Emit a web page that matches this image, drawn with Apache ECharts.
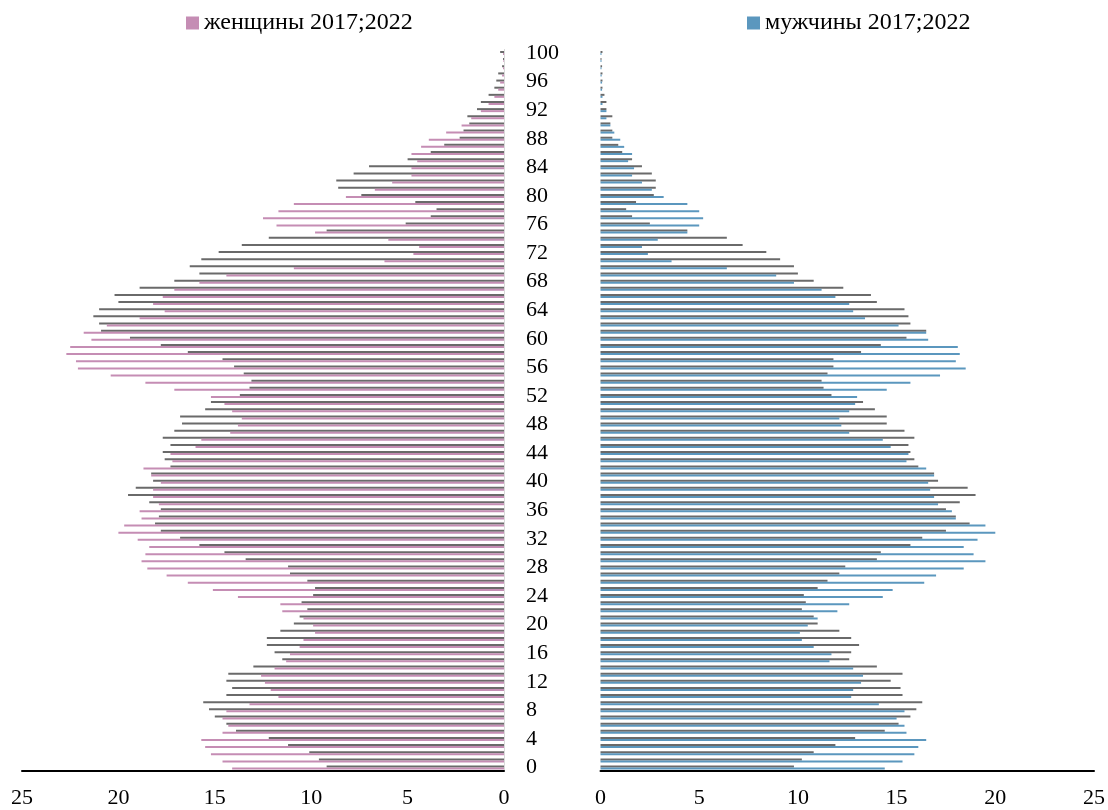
<!DOCTYPE html>
<html>
<head>
<meta charset="utf-8">
<script src="https://cdn.jsdelivr.net/npm/echarts@6/dist/echarts.min.js"></script>
<style>
html,body{margin:0;padding:0;background:#fff;}
#chart{width:1108px;height:810px;}
</style>
</head>
<body>
<div id="chart"></div>
<script>
// Ages 0..100 (category labels)
const ages = [];
for (let a = 0; a <= 100; a++) ages.push(String(a));

const xTicks = [0, 5, 10, 15, 20, 25];

// Women, 2017 (pink) — ages 0..100
const women2017 = [
  14.1, 14.6, 15.2, 15.5, 15.7, 14.6, 14.3, 14.6, 14.4, 13.2, 11.7, 12.1, 12.4, 12.6, 11.9, 11.3, 11.1, 10.6, 10.4, 9.8, 9.9, 10.4, 11.5, 11.6, 13.8, 15.1,
  16.4, 17.5, 18.5, 18.8, 18.6, 18.4, 19.0, 20.0, 19.7, 18.8, 18.9, 17.9, 18.2, 18.2, 17.8, 18.3, 18.7, 17.2, 17.3, 16.0, 15.7, 14.2, 13.8, 13.6, 14.1, 14.5,
  15.2, 17.1, 18.6, 20.4, 22.1, 22.2, 22.7, 22.5, 21.4, 21.8, 20.6, 18.9, 17.6, 18.2, 17.7, 17.1, 15.8, 14.4, 10.9, 6.2, 4.7, 4.4, 6.0, 9.8, 11.8,
  12.5, 11.7, 10.9, 8.2, 6.7, 5.8, 4.8, 4.8, 4.5, 4.8, 4.3, 3.9, 3.0, 2.2, 1.7, 1.2, 0.8, 0.5, 0.3, 0.2, 0.1, 0.05, 0.03, 0.05
];
// Women, 2022 (gray)
const women2022 = [
  9.2, 9.6, 10.1, 11.2, 12.2, 13.9, 14.4, 15.0, 15.3, 15.6, 14.4, 14.1, 14.4, 14.3, 13.0, 11.5, 11.9, 12.3, 12.3, 11.6, 10.9, 10.6, 10.2, 10.5, 9.9, 9.8,
  10.2, 11.1, 11.2, 13.4, 14.5, 15.8, 16.8, 17.8, 18.1, 17.9, 17.8, 18.4, 19.5, 19.1, 18.2, 18.3, 17.3, 17.6, 17.7, 17.3, 17.7, 17.1, 16.7, 16.8, 15.5, 15.2,
  13.7, 13.2, 13.1, 13.5, 14.0, 14.6, 16.4, 17.8, 19.4, 20.9, 21.0, 21.3, 21.0, 20.0, 20.2, 18.9, 17.1, 15.8, 16.3, 15.7, 14.8, 13.6, 12.2, 9.2, 5.1,
  3.8, 3.5, 4.6, 7.4, 8.6, 8.7, 7.8, 7.0, 5.0, 3.8, 3.1, 2.3, 2.1, 1.8, 1.9, 1.4, 1.2, 0.8, 0.5, 0.4, 0.3, 0.1, 0.05, 0.2
];
// Men, 2017 (blue)
const men2017 = [
  14.4, 15.3, 15.9, 16.1, 16.5, 15.5, 15.4, 15.0, 15.4, 14.1, 12.7, 12.8, 13.2, 13.3, 12.8, 11.6, 11.7, 10.8, 10.2, 10.1, 10.5, 11.0, 12.0, 12.6, 14.3, 14.8,
  16.4, 17.0, 18.4, 19.5, 18.9, 18.4, 19.1, 20.0, 19.5, 18.0, 17.8, 17.1, 16.9, 16.7, 16.6, 16.9, 16.5, 15.5, 15.6, 14.7, 14.3, 12.6, 12.2, 12.1, 12.6, 12.9,
  13.0, 14.5, 15.7, 17.2, 18.5, 18.0, 18.2, 18.1, 16.6, 16.5, 15.1, 13.4, 12.8, 12.6, 11.9, 11.2, 9.8, 8.9, 6.4, 3.6, 2.4, 2.1, 2.9, 4.4, 5.0,
  5.2, 5.0, 4.4, 3.2, 2.6, 2.1, 1.6, 1.7, 1.4, 1.6, 1.2, 1.0, 0.7, 0.5, 0.3, 0.3, 0.1, 0.1, 0.08, 0.08, 0.06, 0.05, 0.05, 0.05
];
// Men, 2022 (gray)
const men2022 = [
  9.8, 10.2, 10.8, 11.9, 12.9, 14.4, 15.1, 15.7, 16.0, 16.3, 15.3, 15.2, 14.7, 15.3, 14.0, 12.6, 12.7, 13.1, 12.7, 12.1, 11.0, 10.8, 10.2, 10.4, 10.3, 11.0,
  11.5, 12.1, 12.4, 14.0, 14.2, 15.7, 16.3, 17.5, 18.7, 18.0, 17.5, 18.2, 19.0, 18.6, 17.1, 16.9, 16.1, 15.9, 15.7, 15.6, 15.9, 15.4, 14.5, 14.5, 13.9, 13.3,
  11.7, 11.3, 11.2, 11.5, 11.8, 11.8, 13.2, 14.2, 15.5, 16.5, 15.7, 15.6, 15.4, 14.0, 13.7, 12.3, 10.8, 10.0, 9.8, 9.1, 8.4, 7.2, 6.4, 4.4, 2.5,
  1.6, 1.3, 1.8, 2.7, 2.8, 2.8, 2.6, 2.1, 1.6, 1.1, 0.9, 0.6, 0.6, 0.5, 0.6, 0.3, 0.3, 0.2, 0.1, 0.1, 0.1, 0.08, 0.05, 0.1
];

const FONT = 'Liberation Serif';
const PINK = '#C58DB4';
const BLUE = '#5B97BE';
const GRAY = '#6A6A6A';

const chart = echarts.init(document.getElementById('chart'), null, {renderer: 'canvas'});

const gridTop = 49.4, gridH = 721.7;

function xAxisDef(gridIndex, inverse) {
  return {
    type: 'value', gridIndex: gridIndex, min: xTicks[0], max: xTicks[xTicks.length - 1], interval: 5, inverse: inverse,
    axisLine: {show: true, onZero: false, lineStyle: {color: '#000', width: 2}},
    axisTick: {show: false},
    splitLine: {show: false},
    axisLabel: {fontFamily: FONT, fontSize: 22, color: '#000', margin: 16}
  };
}

function legendDef(name, left) {
  return {data: [name], left: left, top: 11, padding: 0, icon: 'rect', itemWidth: 13, itemHeight: 13,
    textStyle: {fontFamily: FONT, fontSize: 24, color: '#000'}, selectedMode: false};
}

const option = {
  animation: false,
  backgroundColor: '#fff',
  legend: [legendDef('женщины 2017;2022', 186), legendDef('мужчины 2017;2022', 747)],
  grid: [
    {left: 22, width: 482, top: gridTop, height: gridH, containLabel: false},
    {left: 600.5, width: 494, top: gridTop, height: gridH, containLabel: false}
  ],
  xAxis: [xAxisDef(0, true), xAxisDef(1, false)],
  yAxis: [
    {type: 'category', gridIndex: 0, data: ages, position: 'right',
     axisLine: {show: true, lineStyle: {color: '#D9D9D9', width: 1}},
     axisTick: {show: false},
     axisLabel: {interval: 3, align: 'left', margin: 22, fontFamily: FONT, fontSize: 22, color: '#000'}},
    {type: 'category', gridIndex: 1, data: ages,
     axisLine: {show: false}, axisTick: {show: false}, axisLabel: {show: false}}
  ],
  series: [
    {name: 'женщины 2022', type: 'bar', xAxisIndex: 0, yAxisIndex: 0, data: women2022,
     barWidth: 2, barGap: '0%', itemStyle: {color: GRAY}},
    {name: 'женщины 2017;2022', type: 'bar', xAxisIndex: 0, yAxisIndex: 0, data: women2017,
     barWidth: 2, barGap: '0%', itemStyle: {color: PINK}},
    {name: 'мужчины 2022', type: 'bar', xAxisIndex: 1, yAxisIndex: 1, data: men2022,
     barWidth: 2, barGap: '0%', itemStyle: {color: GRAY}},
    {name: 'мужчины 2017;2022', type: 'bar', xAxisIndex: 1, yAxisIndex: 1, data: men2017,
     barWidth: 2, barGap: '0%', itemStyle: {color: BLUE}}
  ]
};
chart.setOption(option);
</script>
</body>
</html>
